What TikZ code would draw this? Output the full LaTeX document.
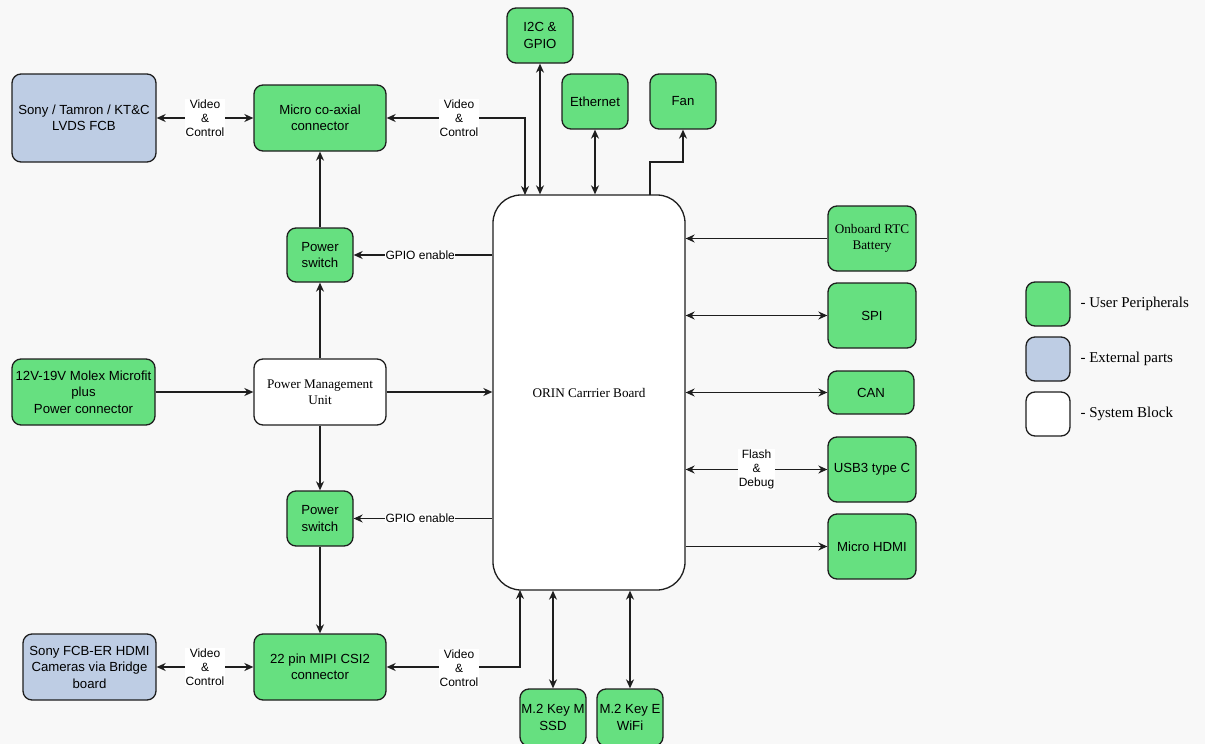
\documentclass[tikz,border=0pt]{standalone}
\usepackage{fontspec}
\setmainfont{Liberation Sans}
\newfontfamily\seriffont{Liberation Serif}
\usetikzlibrary{arrows.meta}
\definecolor{ugreen}{RGB}{102,224,128}
\definecolor{eblue}{RGB}{190,205,228}
\definecolor{bgc}{RGB}{248,248,248}
\definecolor{edge}{RGB}{30,30,30}
\begin{document}
\begin{tikzpicture}[x=1pt,y=-1pt,
  >={Stealth[length=9pt,width=8pt]},
  conn/.style={draw=edge,line width=1.3pt},
  box/.style={draw=edge,line width=1.3pt,rounded corners=9pt,align=center,inner sep=1pt,
    font=\fontsize{13.2}{16.5}\selectfont},
  gbox/.style={box,fill=ugreen},
  bbox/.style={box,fill=eblue},
  wbox/.style={box,fill=white},
  elabel/.style={fill=white,inner sep=1pt,align=center,font=\fontsize{12}{14}\selectfont},
  leg/.style={anchor=west,font=\seriffont\fontsize{15}{18}\selectfont}]
\useasboundingbox (0,0) rectangle (1205,744);
\fill[bgc] (0,0) rectangle (1205,744);

% nodes
\node[bbox,minimum width=144,minimum height=88] (sony) at (84,118) {Sony / Tamron / KT\&C\\LVDS FCB};
\node[gbox,minimum width=132,minimum height=66] (coax) at (320,118) {Micro co-axial\\connector};
\node[gbox,minimum width=66,minimum height=55] (i2c) at (540,35.5) {I2C \&\\GPIO};
\node[gbox,minimum width=66,minimum height=55] (eth) at (595,101.5) {Ethernet};
\node[gbox,minimum width=66,minimum height=55] (fan) at (683,101.5) {Fan};
\node[wbox,rounded corners=28pt,minimum width=192,minimum height=395] (orin) at (589,392.5)
  {\seriffont ORIN Carrrier Board};
\node[gbox,minimum width=66,minimum height=54] (psw1) at (320,255) {Power\\switch};
\node[gbox,minimum width=66,minimum height=55] (psw2) at (320,518.5) {Power\\switch};
\node[gbox,minimum width=143,minimum height=66] (pwr) at (83.5,392) {12V-19V Molex Microfit\\plus\\Power connector};
\node[wbox,minimum width=132,minimum height=66] (pmu) at (320,392) {\seriffont Power Management\\\seriffont Unit};
\node[bbox,minimum width=133,minimum height=66] (sony2) at (89.5,667) {Sony FCB-ER HDMI\\Cameras via Bridge\\board};
\node[gbox,minimum width=132,minimum height=66] (mipi) at (320,667) {22 pin MIPI CSI2\\connector};
\node[gbox,minimum width=66,minimum height=57] (m2m) at (553,717.5) {M.2 Key M\\SSD};
\node[gbox,minimum width=66,minimum height=57] (m2e) at (630,717.5) {M.2 Key E\\WiFi};
\node[gbox,minimum width=88,minimum height=65] (rtc) at (872,238.5) {\seriffont Onboard RTC\\\seriffont Battery};
\node[gbox,minimum width=88,minimum height=65] (spi) at (872,315.5) {SPI};
\node[gbox,minimum width=86,minimum height=43] (can) at (871,392.5) {CAN};
\node[gbox,minimum width=88,minimum height=65] (usb) at (872,469.5) {USB3 type C};
\node[gbox,minimum width=88,minimum height=65] (hdmi) at (872,546.5) {Micro HDMI};

% legend
\node[gbox,minimum width=44,minimum height=44] (lg1) at (1048,304) {};
\node[bbox,minimum width=44,minimum height=44] (lg2) at (1048,359) {};
\node[wbox,minimum width=44,minimum height=44] (lg3) at (1048,414) {};
\node[leg] (lt1) at (1077,304) {- User Peripherals};
\node[leg] (lt2) at (1077,359) {- External parts};
\node[leg] (lt3) at (1077,414) {- System Block};

% free-end coordinates on the board outline
\coordinate (ocx) at (525,195);
\coordinate (ofan) at (650,195);
\coordinate (omp) at (520,590);

% connectors
\draw[conn,<->] (sony.east) -- node[elabel] {Video\\\&\\Control} (coax.west);
\draw[conn,<->] (coax.east) -| (ocx);
\node[elabel] (vc1) at (459,118) {Video\\\&\\Control};
\draw[conn,<->] (i2c.south) -- (i2c.south |- orin.north);
\draw[conn,<->] (eth.south) -- (eth.south |- orin.north);
\draw[conn,->] (ofan) -- ++(0,-33) -| (fan.south);
\draw[conn,->] (psw1.north) -- (coax.south);
\draw[conn,->] (pmu.north) -- (psw1.south);
\draw[conn,->] (orin.west |- psw1.east) -- node[elabel,inner sep=0.5pt,pos=0.52] {GPIO enable} (psw1.east);
\draw[conn,->] (pwr.east) -- (pmu.west);
\draw[conn,->] (pmu.east) -- (pmu.east -| orin.west);
\draw[conn,->] (pmu.south) -- (psw2.north);
\draw[conn,->] (orin.west |- psw2.east) -- node[elabel,inner sep=0.5pt,pos=0.52] {GPIO enable} (psw2.east);
\draw[conn,->] (psw2.south) -- (mipi.north);
\draw[conn,<->] (sony2.east) -- node[elabel] {Video\\\&\\Control} (mipi.west);
\draw[conn,<->] (mipi.east) -| (omp);
\node[elabel] (vc2) at (459,668) {Video\\\&\\Control};
\draw[conn,<->] (m2m.north) -- (m2m.north |- orin.south);
\draw[conn,<->] (m2e.north) -- (m2e.north |- orin.south);
\draw[conn,->] (rtc.west) -- (rtc.west -| orin.east);
\draw[conn,<->] (spi.west) -- (spi.west -| orin.east);
\draw[conn,<->] (can.west) -- (can.west -| orin.east);
\draw[conn,<->] (usb.west -| orin.east) -- node[elabel] {Flash\\\&\\Debug} (usb.west);
\draw[conn,->] (hdmi.west -| orin.east) -- (hdmi.west);
\end{tikzpicture}
\end{document}
